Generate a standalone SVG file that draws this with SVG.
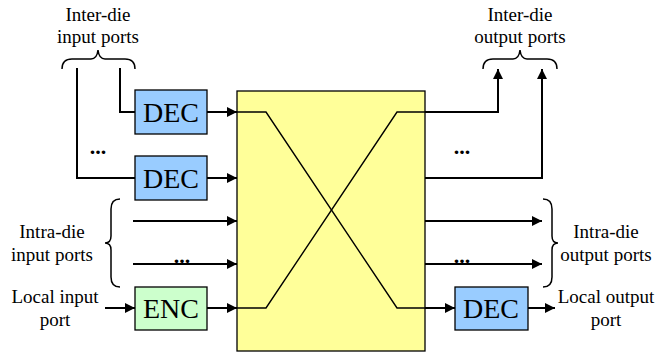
<svg xmlns="http://www.w3.org/2000/svg" width="657" height="352" viewBox="0 0 657 352">
<defs>
<marker id="ah" viewBox="0 0 10 10" refX="10" refY="5" markerWidth="5" markerHeight="5" orient="auto" markerUnits="strokeWidth"><path d="M0,0 L10,5 L0,10 z" fill="#000"/></marker>
<style>
.lbl{font-family:"Liberation Serif","Times New Roman",serif;font-size:19px;fill:#000;text-anchor:middle}
.dots{font-family:"Liberation Serif","Times New Roman",serif;font-size:22px;font-weight:bold;fill:#000;text-anchor:middle}
.big{font-family:"Liberation Serif","Times New Roman",serif;font-size:28px;fill:#000;text-anchor:middle}
.box{stroke:#000;stroke-width:1.3}
.c{fill:none;stroke:#000;stroke-width:2}
.a{fill:none;stroke:#000;stroke-width:2;marker-end:url(#ah)}
.br{fill:none;stroke:#000;stroke-width:1.5}
.x{fill:none;stroke:#000;stroke-width:1.4}
</style>
</defs>
<g id="crossbar">
<rect class="box" x="237" y="91" width="188" height="260" fill="#FFFF99"/>
<path class="x" d="M237,112 L266,112 L397,308 L425,308"/>
<path class="x" d="M237,308 L266,308 L397,112 L425,112"/>
</g>
<g id="dec1"><rect class="box" x="135" y="90" width="72" height="44" fill="#99CCFF"/><text class="big" x="171" y="122">DEC</text></g>
<g id="dec2"><rect class="box" x="135" y="156" width="72" height="44" fill="#99CCFF"/><text class="big" x="171" y="188">DEC</text></g>
<g id="enc"><rect class="box" x="135" y="287" width="72" height="43" fill="#CCFFCC"/><text class="big" x="171" y="318">ENC</text></g>
<g id="dec3"><rect class="box" x="455" y="287" width="73" height="43" fill="#99CCFF"/><text class="big" x="491" y="318">DEC</text></g>
<g id="connectors">
<path class="c" d="M120,68 L120,112 L135,112"/>
<path class="c" d="M77,68 L77,178 L135,178"/>
<path class="a" d="M207,112 L237,112"/>
<path class="a" d="M207,178 L237,178"/>
<path class="a" d="M133,221 L237,221"/>
<path class="a" d="M133,264 L237,264"/>
<path class="a" d="M105,308 L135,308"/>
<path class="a" d="M207,308 L237,308"/>
<path class="a" d="M425,112 L498,112 L498,69"/>
<path class="a" d="M425,178 L542,178 L542,69"/>
<path class="a" d="M425,221 L542,221"/>
<path class="a" d="M425,264 L542,264"/>
<path class="a" d="M425,308 L455,308"/>
<path class="a" d="M528,308 L555,308"/>
</g>
<g id="braces">
<path class="br" d="M62,69 Q62,59 72,59 L91,59 Q97,59 98,50 Q99,59 105,59 L125,59 Q135,59 135,69"/>
<path class="br" d="M483,69 Q483,59 493,59 L513,59 Q519,59 520,50 Q521,59 527,59 L547,59 Q557,59 557,69"/>
<path class="br" d="M120,199 Q111,199 111,209 L111,236 Q111,243 105,243 Q111,243 111,250 L111,277 Q111,287 120,287"/>
<path class="br" d="M543,199 Q552,199 552,209 L552,236 Q552,243 558,243 Q552,243 552,250 L552,277 Q552,287 543,287"/>
</g>
<g id="labels">
<text class="lbl" x="98" y="21">Inter-die</text>
<text class="lbl" x="98" y="43">input ports</text>
<text class="lbl" x="520" y="21">Inter-die</text>
<text class="lbl" x="520" y="43">output ports</text>
<text class="lbl" x="52" y="238">Intra-die</text>
<text class="lbl" x="52" y="261">input ports</text>
<text class="lbl" x="55" y="303">Local input</text>
<text class="lbl" x="55" y="326">port</text>
<text class="lbl" x="606" y="238">Intra-die</text>
<text class="lbl" x="606" y="261">output ports</text>
<text class="lbl" x="606" y="303">Local output</text>
<text class="lbl" x="606" y="326">port</text>
<text class="dots" x="98" y="154">...</text>
<text class="dots" x="462" y="154">...</text>
<text class="dots" x="182" y="263">...</text>
<text class="dots" x="462" y="263">...</text>
</g>
</svg>
